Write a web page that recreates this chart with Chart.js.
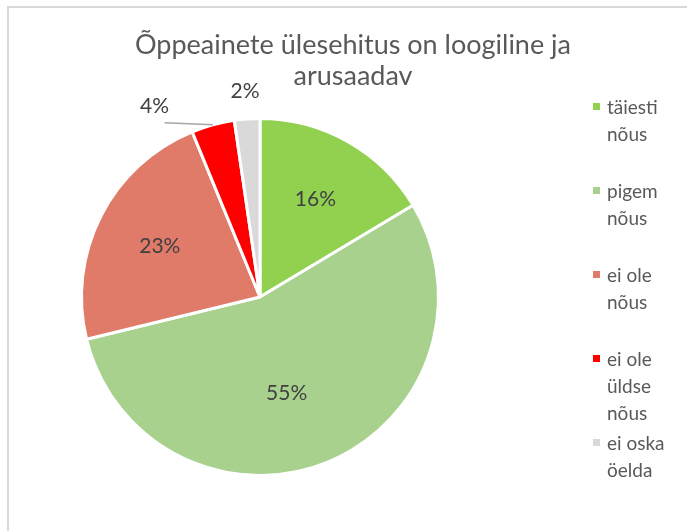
<!DOCTYPE html>
<html lang="et">
<head>
    <meta charset="UTF-8">
    <title>Õppeainete ülesehitus on loogiline ja arusaadav</title>
    <script src="https://cdn.jsdelivr.net/npm/chart.js"></script>
    <style>
        body {
            margin: 0;
            padding: 0;
            background: #fff;
            font-family: Lato, "Open Sans", sans-serif;
            overflow: hidden;
        }

        .frame {
            position: absolute;
            left: 7px;
            top: 6px;
            width: 700px;
            height: 540px;
            border-left: 2px solid #d9d9d9;
            border-top: 2px solid #d9d9d9;
        }

        canvas {
            position: absolute;
            left: 0;
            top: 0;
        }

        .title {
            position: absolute;
            left: 0;
            top: 28px;
            width: 706px;
            text-align: center;
            color: #595959;
            font-size: 27px;
            line-height: 31px;
        }

        .legend {
            position: absolute;
            left: 593px;
            top: 93px;
            color: #595959;
            font-size: 19px;
            line-height: 27px;
        }

        .legend .item {
            display: flex;
            align-items: flex-start;
            min-height: 84px;
        }

        .legend .box {
            width: 7px;
            height: 7px;
            margin-top: 10px;
            margin-right: 7px;
            flex: none;
        }
    </style>
</head>
<body>

    <div class="frame"></div>
    <canvas id="pieChart" width="687" height="531"></canvas>
    <div class="title">Õppeainete ülesehitus on loogiline ja<br>arusaadav</div>
    <div class="legend" id="legend"></div>

    <script>
        // answer categories (legend lines)
        const categories = [
            ['täiesti', 'nõus'],
            ['pigem', 'nõus'],
            ['ei ole', 'nõus'],
            ['ei ole', 'üldse', 'nõus'],
            ['ei oska', 'öelda']
        ];

        // share of answers, %
        const shares = [16.4, 54.8, 22.6, 3.9, 2.3];

        const sliceColors = ['#92d050', '#a9d18e', '#e07a69', '#ff0000', '#d9d9d9'];

        // small slices get their label outside, like Excel does
        const labelPlugin = {
            id: 'sliceLabels',
            afterDatasetsDraw(chart) {
                const ctx = chart.ctx;
                const meta = chart.getDatasetMeta(0);
                ctx.save();
                ctx.font = '21px Lato, "Open Sans", sans-serif';
                ctx.fillStyle = '#404040';
                ctx.textAlign = 'center';
                ctx.textBaseline = 'middle';
                meta.data.forEach((arc, i) => {
                    const p = arc.getProps(['x', 'y', 'startAngle', 'endAngle', 'outerRadius'], true);
                    const mid = (p.startAngle + p.endAngle) / 2;
                    const text = Math.round(shares[i]) + '%';
                    if (shares[i] >= 5) {
                        // the big slice's label sits a bit nearer the centre
                        const r = p.outerRadius * (shares[i] > 50 ? 0.56 : 0.63);
                        const a = shares[i] > 50 ? mid + 0.12 : mid;
                        ctx.fillText(text, p.x + Math.cos(a) * r, p.y + Math.sin(a) * r);
                    } else {
                        const r = p.outerRadius + 28;
                        let lx = p.x + Math.cos(mid) * r;
                        let ly = p.y + Math.sin(mid) * r;
                        // the 4% label is pushed aside to clear the 2% one
                        if (i === 3) {
                            lx -= 51;
                            ly += 8;
                            ctx.strokeStyle = '#a6a6a6';
                            ctx.lineWidth = 1.5;
                            ctx.beginPath();
                            ctx.moveTo(lx + 10, ly + 17);
                            ctx.lineTo(p.x + Math.cos(mid) * p.outerRadius, p.y + Math.sin(mid) * p.outerRadius);
                            ctx.stroke();
                        }
                        ctx.fillText(text, lx, ly);
                    }
                });
                ctx.restore();
            }
        };

        new Chart(document.getElementById('pieChart').getContext('2d'), {
            type: 'pie',
            data: {
                labels: categories,
                datasets: [{
                    data: shares,
                    backgroundColor: sliceColors,
                    borderColor: '#ffffff',
                    borderWidth: 3,
                    hoverOffset: 0
                }]
            },
            options: {
                responsive: false,
                animation: false,
                layout: {
                    padding: { left: 80, top: 117, right: 247, bottom: 54 }
                },
                plugins: {
                    legend: { display: false },
                    title: { display: false },
                    tooltip: { enabled: false }
                }
            },
            plugins: [labelPlugin]
        });

        // legend on the right
        const legendEl = document.getElementById('legend');
        categories.forEach((lines, i) => {
            const item = document.createElement('div');
            item.className = 'item';
            const box = document.createElement('span');
            box.className = 'box';
            box.style.background = sliceColors[i];
            const txt = document.createElement('span');
            txt.innerHTML = lines.join('<br>');
            item.appendChild(box);
            item.appendChild(txt);
            legendEl.appendChild(item);
        });
    </script>

</body>
</html>
